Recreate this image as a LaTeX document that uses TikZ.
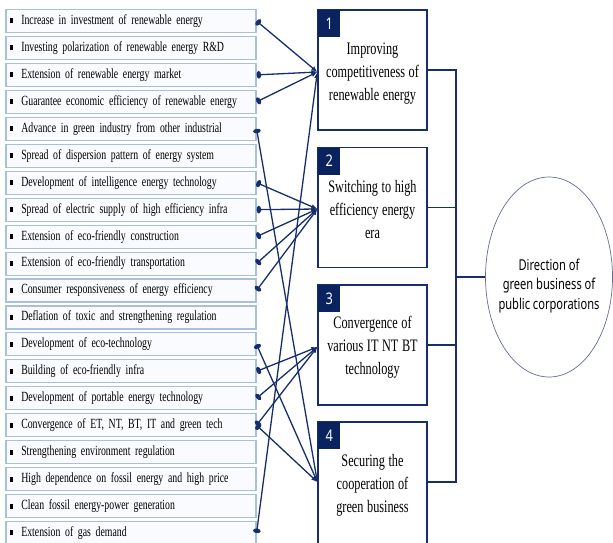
\documentclass[tikz,border=0pt]{standalone}
\usepackage{fontspec}
\setmainfont{Liberation Serif}
\newfontfamily\lfont{Liberation Serif}[FakeStretch=0.70]
\newfontfamily\rfont{Liberation Serif}[FakeStretch=0.7]
\newfontfamily\efont{Noto Sans}[FakeStretch=0.74]
\newfontfamily\nfont{Noto Sans}[FakeStretch=0.8]
\usetikzlibrary{arrows.meta,shapes.geometric}
\definecolor{navy}{RGB}{22,46,108}
\definecolor{sqnavy}{RGB}{10,34,94}
\definecolor{lblue}{RGB}{168,192,218}
\definecolor{lfill}{RGB}{249,251,254}
\definecolor{egray}{RGB}{100,108,145}
\newcommand{\bul}{\rule[1pt]{2.8pt}{5pt}\hspace{8.5pt}}
\tikzset{
  lbox/.style={draw=lblue, line width=1.1pt, fill=lfill, minimum width=250pt, minimum height=23pt,
    text width=242pt, align=left, inner xsep=4pt, inner ysep=0pt,
    font={\lfont\fontsize{14}{15}\selectfont\spaceskip=2.3pt plus 1pt minus 0.5pt}},
  rbox/.style={draw=navy, line width=1.3pt, fill=white, minimum width=109pt, minimum height=120pt,
    inner sep=0pt},
  rtext/.style={align=center, inner sep=0pt,
    font={\rfont\fontsize{17.5}{22.9}\selectfont\spaceskip=3.6pt plus 1pt minus 0.5pt}},
  numbox/.style={fill=sqnavy, text=white, minimum width=22pt, minimum height=27pt, inner sep=0pt,
    font={\nfont\fontsize{16}{18}\selectfont}},
  conn/.style={navy, line width=1.3pt, {Circle[length=4.5pt,width=7.5pt]}-{Latex[length=6pt,width=5pt]}},
  brk/.style={navy, line width=1.3pt},
}
\begin{document}
\begin{tikzpicture}[x=1pt,y=-1pt]
\useasboundingbox (0,0) rectangle (613,542);
% left boxes
\foreach \i/\t in {1/Increase in investment of renewable energy,
  2/Investing polarization of renewable energy R\&D,
  3/Extension of renewable energy market,
  4/Guarantee economic efficiency of renewable energy,
  5/Advance in green industry from other industrial,
  6/Spread of dispersion pattern of energy system,
  7/Development of intelligence energy technology,
  8/Spread of electric supply of high efficiency infra,
  9/Extension of eco-friendly construction,
  10/Extension of eco-friendly transportation,
  11/Consumer responsiveness of energy efficiency,
  12/Deflation of toxic and strengthening regulation,
  13/Development of eco-technology,
  14/Building of eco-friendly infra,
  15/Development of portable energy technology,
  16/{Convergence of ET, NT, BT, IT and green tech},
  17/Strengthening environment regulation,
  18/High dependence on fossil energy and high price,
  19/Clean fossil energy-power generation,
  20/Extension of gas demand}
  {\node[lbox] (L\i) at (131,{21+26.95*(\i-1)}) {\bul\t};}
% right boxes
\node[rbox] (B1) at (372.5,70) {};
\node[rbox] (B2) at (372.5,207.5) {};
\node[rbox] (B3) at (372.5,345) {};
\node[rbox, minimum height=126pt] (B4) at (372.5,485) {};
\node[rtext] (B1t) at ([yshift=-3.5pt]B1.center) {Improving\\competitiveness of\\renewable energy};
\node[rtext] (B2t) at ([yshift=-2pt]B2.center) {Switching to high\\efficiency energy\\era};
\node[rtext] (B3t) at ([yshift=-2.5pt]B3.center) {Convergence of\\various IT NT BT\\technology};
\node[rtext] (B4t) at ([yshift=-0.5pt]B4.center) {Securing the\\cooperation of\\green business};
\foreach \k in {1,2,3,4}
  {\node[numbox, anchor=north west] (N\k) at ([xshift=0.65pt,yshift=-0.65pt]B\k.north west) {\k};}
% ellipse
\node[draw=egray, line width=0.7pt, ellipse, minimum width=127pt, minimum height=200pt, inner sep=0pt] (E) at (549,277) {};
\node[align=center, inner sep=0pt, font={\efont\fontsize{15}{19.5}\selectfont}] (Et) at (549,286)
  {Direction of\\green business of\\public corporations};
% targets
\coordinate (T1) at ([yshift=-2pt]B1.west);
\coordinate (T2) at ([yshift=-1.5pt]B2.west);
\coordinate (T3) at ([yshift=-2pt]B3.west);
\coordinate (T4) at ([yshift=3pt]B4.west);
% connectors
\foreach \s in {1,3,4,20} {\draw[conn] (L\s.east) -- (T1);}
\foreach \s in {7,8,9,10,11} {\draw[conn] (L\s.east) -- (T2);}
\foreach \s in {14,15,16} {\draw[conn] (L\s.east) -- (T3);}
\foreach \s in {5,13,16} {\draw[conn] (L\s.east) -- (T4);}
% bracket
\coordinate (V) at (456,0);
\draw[brk] (B1.east) -- (B1.east -| V) -- ([yshift=3pt]B4.east -| V) -- ([yshift=3pt]B4.east);
\draw[brk] (B2.east) -- (B2.east -| V);
\draw[brk] (B3.east) -- (B3.east -| V);
\draw[brk] (E.west -| V) -- (E.west);
\end{tikzpicture}
\end{document}
